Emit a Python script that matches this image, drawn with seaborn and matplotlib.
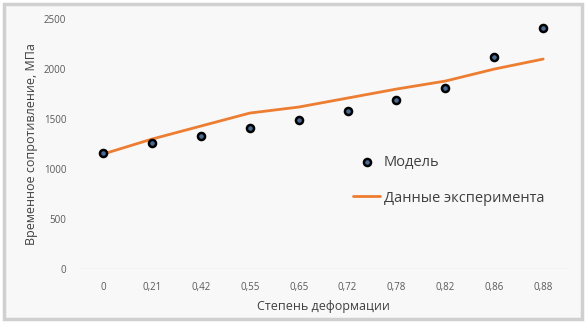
import matplotlib
matplotlib.use("Agg")
import matplotlib.pyplot as plt
import matplotlib.patches as mpatches
import pandas as pd
import seaborn as sns

# степень деформации (категории по оси X)
strain = ["0", "0,21", "0,42", "0,55", "0,65", "0,72", "0,78", "0,82", "0,86", "0,88"]
model = [1160, 1260, 1330, 1410, 1490, 1580, 1690, 1810, 2120, 2410]
experiment = [1150, 1300, 1430, 1560, 1620, 1710, 1800, 1880, 2000, 2100]

sns.set_theme(style="white")
plt.rcParams["font.family"] = ["Open Sans", "DejaVu Sans"]

df = pd.DataFrame({"strain": strain, "model": model, "experiment": experiment})

fig = plt.figure(figsize=(5.87, 3.23), dpi=100)
fig.patch.set_facecolor("white")
fig.patches.append(mpatches.Rectangle((0.006, 0.012), 0.986, 0.975, transform=fig.transFigure,
                                      facecolor="#f8f8f8", edgecolor="#d0d0d0", linewidth=2.5,
                                      zorder=-10))

ax = fig.add_axes([0.134, 0.167, 0.833, 0.774])
ax.set_facecolor("none")

sns.lineplot(data=df, x="strain", y="experiment", ax=ax, color="#ed7d31", linewidth=2,
             label="Данные эксперимента", sort=False, zorder=2)
sns.scatterplot(data=df, x="strain", y="model", ax=ax, color="#4a6c94", edgecolor="black",
                linewidth=1.8, s=26, label="Модель", zorder=3)

ax.set_ylim(0, 2500)
ax.set_xlim(-0.5, len(strain) - 0.5)
ax.set_yticks(range(0, 2501, 500))
for s in ax.spines.values():
    s.set_visible(False)
ax.axhline(0, color="#d9d9d9", linewidth=1, zorder=1)
ax.tick_params(axis="both", length=0, labelsize=7, colors="#595959")
ax.tick_params(axis="x", pad=9)
ax.tick_params(axis="y", pad=9)

ax.set_xlabel("Степень деформации", fontsize=9, color="#404040", labelpad=5)
ax.set_ylabel("Временное сопротивление, МПа", fontsize=9, color="#404040", labelpad=4)

handles, labels = ax.get_legend_handles_labels()
order = [labels.index("Модель"), labels.index("Данные эксперимента")]
leg = ax.legend([handles[i] for i in order], [labels[i] for i in order],
                loc="center left", bbox_to_anchor=(0.535, 0.355), frameon=False,
                fontsize=10.5, labelspacing=1.4, handlelength=1.8, handletextpad=0.3,
                labelcolor="#404040")

fig.savefig("out.png", dpi=100)
